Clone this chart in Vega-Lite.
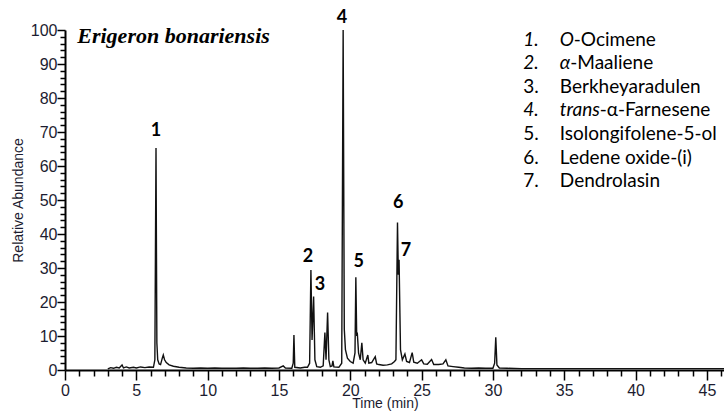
{
  "$schema": "https://vega.github.io/schema/vega-lite/v6.json",
  "width": 659,
  "height": 340,
  "autosize": {"type": "none"},
  "padding": {"left": 65, "top": 30, "right": 0, "bottom": 42},
  "background": "white",
  "config": {"view": {"stroke": null}, "font": "Liberation Sans"},
  "datasets": {
    "trace": [
      {"t": 3.0, "a": 0.3}, {"t": 3.2, "a": 0.7}, {"t": 3.4, "a": 0.5}, {"t": 3.6, "a": 0.8}, {"t": 3.8, "a": 0.6},
      {"t": 4.0, "a": 1.5}, {"t": 4.1, "a": 0.6}, {"t": 4.3, "a": 0.9}, {"t": 4.5, "a": 0.6}, {"t": 4.8, "a": 0.8},
      {"t": 5.0, "a": 0.6}, {"t": 5.3, "a": 0.9}, {"t": 5.6, "a": 0.7}, {"t": 5.9, "a": 0.9}, {"t": 6.2, "a": 0.8},
      {"t": 6.3, "a": 3}, {"t": 6.38, "a": 65.3}, {"t": 6.44, "a": 8}, {"t": 6.5, "a": 3}, {"t": 6.6, "a": 1.8},
      {"t": 6.7, "a": 1.6}, {"t": 6.82, "a": 3.5}, {"t": 6.89, "a": 4.4}, {"t": 6.98, "a": 3}, {"t": 7.1, "a": 2.2},
      {"t": 7.3, "a": 1.5}, {"t": 7.6, "a": 1.1}, {"t": 8.0, "a": 0.8}, {"t": 8.5, "a": 0.6}, {"t": 9.0, "a": 0.5},
      {"t": 9.5, "a": 0.6}, {"t": 10.0, "a": 0.5}, {"t": 10.5, "a": 0.6}, {"t": 11.0, "a": 0.5}, {"t": 11.5, "a": 0.5},
      {"t": 12.0, "a": 0.5}, {"t": 12.5, "a": 0.6}, {"t": 13.0, "a": 0.5}, {"t": 13.5, "a": 0.5}, {"t": 14.0, "a": 0.6},
      {"t": 14.5, "a": 0.5}, {"t": 15.0, "a": 0.6}, {"t": 15.3, "a": 1.2}, {"t": 15.45, "a": 0.6}, {"t": 15.9, "a": 0.5},
      {"t": 16.0, "a": 2}, {"t": 16.05, "a": 10.3}, {"t": 16.11, "a": 0.8}, {"t": 16.5, "a": 0.6}, {"t": 16.8, "a": 0.8},
      {"t": 17.0, "a": 0.8}, {"t": 17.15, "a": 2}, {"t": 17.24, "a": 29.4}, {"t": 17.32, "a": 8.8}, {"t": 17.43, "a": 21.6},
      {"t": 17.52, "a": 3}, {"t": 17.65, "a": 1}, {"t": 17.9, "a": 0.8}, {"t": 18.1, "a": 1.2}, {"t": 18.22, "a": 11},
      {"t": 18.3, "a": 3}, {"t": 18.41, "a": 16.9}, {"t": 18.5, "a": 3}, {"t": 18.6, "a": 1}, {"t": 18.72, "a": 1.2},
      {"t": 18.78, "a": 2.7}, {"t": 18.85, "a": 0.9}, {"t": 19.2, "a": 0.8}, {"t": 19.4, "a": 2}, {"t": 19.5, "a": 100},
      {"t": 19.58, "a": 12}, {"t": 19.66, "a": 6}, {"t": 19.8, "a": 3.5}, {"t": 20.0, "a": 2.5}, {"t": 20.2, "a": 2},
      {"t": 20.33, "a": 5}, {"t": 20.39, "a": 27.3}, {"t": 20.45, "a": 10}, {"t": 20.49, "a": 11}, {"t": 20.58, "a": 5},
      {"t": 20.7, "a": 3}, {"t": 20.81, "a": 8}, {"t": 20.9, "a": 3}, {"t": 21.05, "a": 2}, {"t": 21.23, "a": 4.4},
      {"t": 21.3, "a": 2}, {"t": 21.5, "a": 2.2}, {"t": 21.75, "a": 3.9}, {"t": 21.85, "a": 1.8}, {"t": 22.0, "a": 1.6},
      {"t": 22.3, "a": 1.4}, {"t": 22.6, "a": 1.5}, {"t": 22.9, "a": 1.8}, {"t": 23.1, "a": 2.5}, {"t": 23.2, "a": 3},
      {"t": 23.31, "a": 43.4}, {"t": 23.37, "a": 28}, {"t": 23.42, "a": 32.4}, {"t": 23.52, "a": 6}, {"t": 23.65, "a": 3},
      {"t": 23.83, "a": 4.7}, {"t": 23.95, "a": 2.5}, {"t": 24.15, "a": 2.2}, {"t": 24.34, "a": 5.1}, {"t": 24.45, "a": 2.3},
      {"t": 24.7, "a": 2}, {"t": 25.0, "a": 3}, {"t": 25.15, "a": 1.8}, {"t": 25.4, "a": 1.7}, {"t": 25.7, "a": 3.1},
      {"t": 25.85, "a": 1.6}, {"t": 26.2, "a": 1.6}, {"t": 26.5, "a": 1.8}, {"t": 26.7, "a": 3}, {"t": 26.85, "a": 1.2},
      {"t": 27.2, "a": 1}, {"t": 27.6, "a": 0.8}, {"t": 28.0, "a": 0.6}, {"t": 28.5, "a": 0.5}, {"t": 29.0, "a": 0.6},
      {"t": 29.5, "a": 0.5}, {"t": 30.0, "a": 0.5}, {"t": 30.12, "a": 2}, {"t": 30.2, "a": 9.6}, {"t": 30.28, "a": 1.5},
      {"t": 30.45, "a": 0.6}, {"t": 31.0, "a": 0.5}, {"t": 32.0, "a": 0.4}, {"t": 34.0, "a": 0.4}, {"t": 36.0, "a": 0.4},
      {"t": 38.0, "a": 0.4}, {"t": 40.0, "a": 0.4}, {"t": 42.0, "a": 0.4}, {"t": 44.0, "a": 0.4}, {"t": 46.2, "a": 0.4}
    ],
    "peaks": [
      {"t": 6.38, "a": 70.3, "txt": "1"},
      {"t": 17.03, "a": 33.2, "txt": "2"},
      {"t": 17.87, "a": 25.0, "txt": "3"},
      {"t": 19.41, "a": 103.5, "txt": "4"},
      {"t": 20.6, "a": 31.8, "txt": "5"},
      {"t": 23.36, "a": 49.1, "txt": "6"},
      {"t": 23.9, "a": 35.0, "txt": "7"}
    ],
    "title": [{"t": 0.86, "a": 98.2, "txt": "Erigeron bonariensis"}],
    "legend": [
      {"t": 32.12, "a": 97.2, "txt": "1.", "italic": true},
      {"t": 34.69, "a": 97.2, "txt": "O", "italic": true},
      {"t": 35.67, "a": 97.2, "txt": "-Ocimene", "italic": false},
      {"t": 32.12, "a": 90.3, "txt": "2.", "italic": true},
      {"t": 34.69, "a": 90.3, "txt": "α", "italic": true},
      {"t": 35.42, "a": 90.3, "txt": "-Maaliene", "italic": false},
      {"t": 32.12, "a": 83.3, "txt": "3.", "italic": false},
      {"t": 34.69, "a": 83.3, "txt": "Berkheyaradulen", "italic": false},
      {"t": 32.12, "a": 76.4, "txt": "4.", "italic": true},
      {"t": 34.69, "a": 76.4, "txt": "trans", "italic": true},
      {"t": 37.49, "a": 76.4, "txt": "-α-Farnesene", "italic": false},
      {"t": 32.12, "a": 69.4, "txt": "5.", "italic": false},
      {"t": 34.69, "a": 69.4, "txt": "Isolongifolene-5-ol", "italic": false},
      {"t": 32.12, "a": 62.5, "txt": "6.", "italic": false},
      {"t": 34.69, "a": 62.5, "txt": "Ledene oxide-(i)", "italic": false},
      {"t": 32.12, "a": 55.6, "txt": "7.", "italic": false},
      {"t": 34.69, "a": 55.6, "txt": "Dendrolasin", "italic": false}
    ]
  },
  "encoding": {
    "x": {
      "field": "t", "type": "quantitative",
      "scale": {"domain": [0, 46.2], "nice": false, "zero": false},
      "axis": {
        "title": "Time (min)",
        "values": [0,1,2,3,4,5,6,7,8,9,10,11,12,13,14,15,16,17,18,19,20,21,22,23,24,25,26,27,28,29,30,31,32,33,34,35,36,37,38,39,40,41,42,43,44,45,46],
        "labelExpr": "datum.value % 5 === 0 ? datum.label : ''",
        "labelOverlap": false,
        "labelFlush": false,
        "grid": false,
        "tickSize": {"condition": {"test": "datum.value % 5 === 0", "value": 10}, "value": 6},
        "tickWidth": 1.5,
        "tickColor": "#000000",
        "domainColor": "#000000",
        "domainWidth": 2,
        "labelFontSize": 16,
        "labelColor": "#1c1c30",
        "labelPadding": 2,
        "titleFontSize": 14,
        "titleFontWeight": "normal",
        "titleColor": "#1c1c30",
        "titlePadding": -2,
        "titleX": 320
      }
    },
    "y": {
      "field": "a", "type": "quantitative",
      "scale": {"domain": [0, 100], "nice": false, "zero": true},
      "axis": {
        "title": "Relative Abundance",
        "values": [0,2,4,6,8,10,12,14,16,18,20,22,24,26,28,30,32,34,36,38,40,42,44,46,48,50,52,54,56,58,60,62,64,66,68,70,72,74,76,78,80,82,84,86,88,90,92,94,96,98,100],
        "labelExpr": "datum.value % 10 === 0 ? datum.label : ''",
        "labelOverlap": false,
        "labelFlush": false,
        "grid": false,
        "tickSize": {"condition": {"test": "datum.value % 10 === 0", "value": 8}, "value": 5},
        "tickWidth": 1.5,
        "tickColor": "#000000",
        "domainColor": "#000000",
        "domainWidth": 2,
        "labelFontSize": 16,
        "labelColor": "#1c1c30",
        "labelPadding": 0,
        "titleFontSize": 14,
        "titleFontWeight": "normal",
        "titleColor": "#1c1c30",
        "titlePadding": 5
      }
    }
  },
  "layer": [
    {
      "data": {"name": "trace"},
      "mark": {"type": "line", "color": "#111111", "strokeWidth": 1.4, "clip": true, "interpolate": "linear"}
    },
    {
      "data": {"name": "peaks"},
      "mark": {"type": "text", "font": "Lato", "fontWeight": "bold", "fontSize": 18, "color": "#000000", "baseline": "middle", "align": "center"},
      "encoding": {"text": {"field": "txt"}}
    },
    {
      "data": {"name": "title"},
      "mark": {"type": "text", "font": "Liberation Serif", "fontWeight": "bold", "fontStyle": "italic", "fontSize": 22, "color": "#000000", "baseline": "middle", "align": "left"},
      "encoding": {"text": {"field": "txt"}}
    },
    {
      "data": {"name": "legend"},
      "transform": [{"filter": "datum.italic"}],
      "mark": {"type": "text", "font": "Lato", "fontStyle": "italic", "fontSize": 19, "color": "#000000", "baseline": "middle", "align": "left"},
      "encoding": {"text": {"field": "txt"}}
    },
    {
      "data": {"name": "legend"},
      "transform": [{"filter": "!datum.italic"}],
      "mark": {"type": "text", "font": "Lato", "fontSize": 19, "color": "#000000", "baseline": "middle", "align": "left"},
      "encoding": {"text": {"field": "txt"}}
    }
  ]
}
